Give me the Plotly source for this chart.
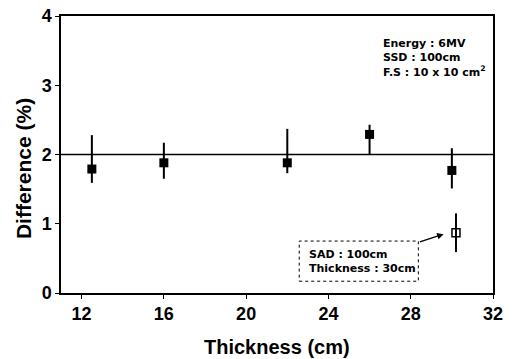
import plotly.graph_objects as go

thickness = [12.5, 16, 22, 26, 30]
difference = [1.79, 1.88, 1.88, 2.29, 1.77]
err_plus = [0.49, 0.29, 0.49, 0.14, 0.32]
err_minus = [0.20, 0.23, 0.15, 0.29, 0.26]

sad_thickness = [30.2]
sad_difference = [0.87]
sad_err_plus = [0.28]
sad_err_minus = [0.28]

ref_x = [11, 32]
ref_y = [2, 2]

x_ticks = [12, 16, 20, 24, 28, 32]
y_ticks = [0, 1, 2, 3, 4]

FONT = "Liberation Sans, Arial, sans-serif"
NOTE_FONT = "DejaVu Sans, sans-serif"

fig = go.Figure()
fig.add_trace(go.Scatter(x=ref_x, y=ref_y, mode="lines",
                         line=dict(color="black", width=1.3), showlegend=False))
fig.add_trace(go.Scatter(
    x=thickness, y=difference, mode="markers",
    marker=dict(symbol="square", size=9, color="black"),
    error_y=dict(type="data", symmetric=False, array=err_plus, arrayminus=err_minus,
                 width=0, thickness=2, color="black"),
    showlegend=False))
fig.add_trace(go.Scatter(
    x=sad_thickness, y=sad_difference, mode="markers",
    marker=dict(symbol="square-open", size=8, color="black", line=dict(width=1.5)),
    error_y=dict(type="data", symmetric=False, array=sad_err_plus, arrayminus=sad_err_minus,
                 width=0, thickness=2, color="black"),
    showlegend=False))

axis_common = dict(showline=True, linecolor="black", linewidth=1.5, mirror=True,
                   ticks="outside", ticklen=4, tickwidth=1.2, tickcolor="black",
                   showgrid=False, zeroline=False, automargin=False,
                   tickfont=dict(family=FONT, size=18, color="black", weight="bold"))

fig.update_xaxes(range=[11, 32], tickvals=x_ticks, **axis_common)
fig.update_yaxes(range=[0, 4], tickvals=y_ticks, **axis_common)

fig.add_annotation(x=0.5, y=-0.195, xref="paper", yref="paper", xanchor="center", yanchor="middle",
                   showarrow=False, text="Thickness (cm)",
                   font=dict(family=FONT, size=20, color="black", weight="bold"))
fig.add_annotation(x=-0.088, y=0.451, xref="paper", yref="paper", xanchor="center", yanchor="middle",
                   showarrow=False, text="Difference (%)", textangle=-90,
                   font=dict(family=FONT, size=21, color="black", weight="bold"))

fig.add_annotation(x=0.741, y=0.93, xref="paper", yref="paper", xanchor="left", yanchor="top",
                   showarrow=False, align="left",
                   text="Energy : 6MV<br>SSD : 100cm<br>F.S : 10 x 10 cm<sup>2</sup>",
                   font=dict(family=NOTE_FONT, size=11, color="black", weight="bold"))

fig.add_shape(type="rect", x0=22.58, x1=28.37, y0=0.17, y1=0.75, xref="x", yref="y",
              line=dict(color="black", width=1, dash="dot"))
fig.add_annotation(x=22.95, y=0.46, xref="x", yref="y", xanchor="left", yanchor="middle",
                   showarrow=False, align="left",
                   text="SAD : 100cm<br>Thickness : 30cm",
                   font=dict(family=NOTE_FONT, size=11, color="black", weight="bold"))
fig.add_annotation(x=29.6, y=0.85, ax=28.37, ay=0.73, xref="x", yref="y", axref="x", ayref="y",
                   showarrow=True, arrowhead=2, arrowsize=1, arrowwidth=1.3, arrowcolor="black",
                   text="")

fig.update_layout(width=513, height=359, margin=dict(l=61, r=20, t=16, b=66),
                  paper_bgcolor="white", plot_bgcolor="white")

fig.write_html("out.html")
